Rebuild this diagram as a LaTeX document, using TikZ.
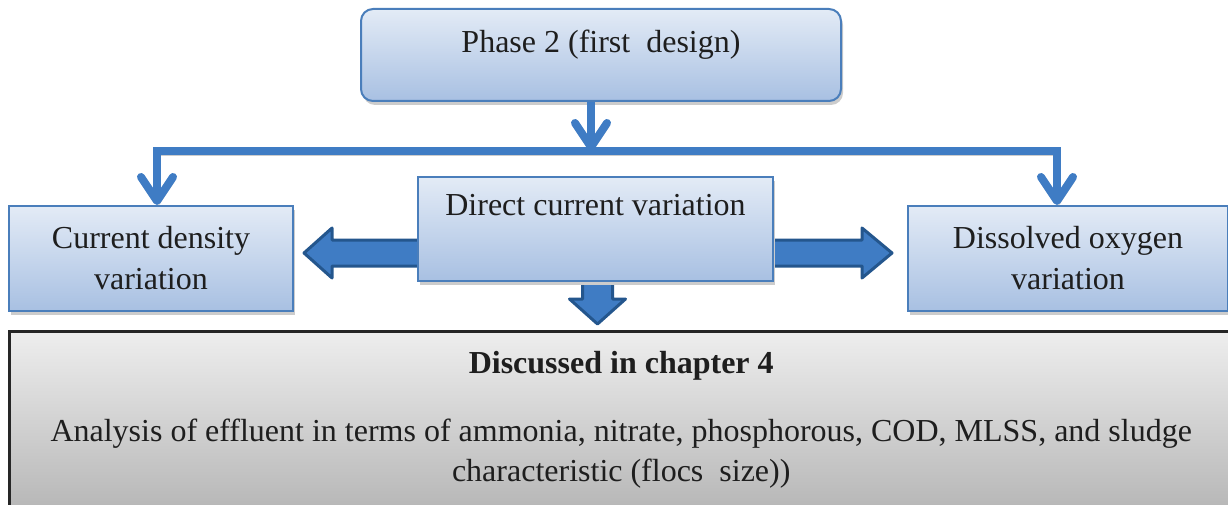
\documentclass[tikz,border=0pt]{standalone}
\usepackage{fontspec}
\setmainfont{Liberation Serif}
\usetikzlibrary{arrows.meta,calc,shadows,backgrounds,positioning}

\definecolor{boxline}{HTML}{4A7EBB}
\definecolor{boxtop}{HTML}{E3EBF6}
\definecolor{boxbot}{HTML}{A8C0E2}
\definecolor{arrblue}{HTML}{3F7CC4}
\definecolor{arredge}{HTML}{24568D}
\definecolor{graytop}{HTML}{EEEEEE}
\definecolor{graybot}{HTML}{B3B3B3}
\definecolor{txt}{HTML}{1E1E1E}

\tikzset{
  bluebox/.style={draw=boxline, line width=2pt, top color=boxtop, bottom color=boxbot,
    text=txt, inner sep=0pt, align=center, font=\fontsize{32}{41}\selectfont,
    drop shadow={shadow xshift=2pt, shadow yshift=-4pt, fill=black!20, opacity=1}},
  graybox/.style={draw=black!85, line width=2.5pt, top color=graytop, bottom color=graybot,
    text=txt, inner sep=0pt, align=center, font=\fontsize{32}{40}\selectfont},
  linkarrow/.style={draw=arrblue, line width=8pt, -{Straight Barb[length=24pt,width=32pt,round]},
    preaction={draw=black!20, transform canvas={shift={(2pt,-4pt)}}}},
  blockarrow/.style={fill=arrblue, draw=arredge, line width=3pt, line join=round}
}

\begin{document}
\begin{tikzpicture}[x=1pt,y=-1pt]
  \useasboundingbox (0,0) rectangle (1228,505);
  \clip (0,0) rectangle (1228,505);

  \node[bluebox, rounded corners=12pt, minimum width=480pt, text height=44pt, text depth=48pt,
    anchor=north west] (phase) at (360,8) {Phase 2 (first~~design)};
  \node[bluebox, minimum width=284pt, text height=83pt, text depth=22pt,
    anchor=north west] (cur) at (8,205) {Current density\\variation};
  \node[bluebox, minimum width=355pt, text height=38pt, text depth=66pt,
    anchor=north west] (dc) at (417,176) {Direct current variation};
  \node[bluebox, minimum width=320pt, text height=83pt, text depth=22pt,
    anchor=north west] (dis) at (907,205) {Dissolved oxygen\\variation};
  \node[graybox, minimum width=1224pt, text height=150pt, text depth=40pt,
    anchor=north west] (chap) at (8,330)
    {\textbf{Discussed in chapter 4}\\[28pt]
     Analysis of effluent in terms of ammonia, nitrate, phosphorous, COD, MLSS, and sludge\\
     characteristic (flocs~~size))};

  \coordinate (bar) at (591,151);
  \draw[linkarrow] (phase.south -| bar) -- (bar);
  \draw[linkarrow] (bar) -| ($(cur.north)+(6,0)$);
  \draw[linkarrow] (bar) -| ($(dis.north)+(-11,0)$);

  \begin{scope}[on background layer]
    \coordinate (ltip) at ($(cur.east)+(10,-5.5)$);
    \coordinate (rtip) at ($(dis.west)+(-15,-5.5)$);
    \coordinate (dtip) at ($(dc.south)+(2,42)$);
    \draw[blockarrow] (ltip) -- ++(28,-25) -- ++(0,12) -- ($(ltip -| dc.west)+(6,-13)$)
      -- ($(ltip -| dc.west)+(6,13)$) -- ($(ltip)+(28,13)$) -- ++(0,12) -- cycle;
    \draw[blockarrow] (rtip) -- ++(-30,-25) -- ++(0,12) -- ($(rtip -| dc.east)+(-6,-13)$)
      -- ($(rtip -| dc.east)+(-6,13)$) -- ($(rtip)+(-30,13)$) -- ++(0,12) -- cycle;
    \draw[blockarrow] (dtip) -- ++(-28,-25) -- ++(13,0) -- ($(dtip |- dc.south)+(-15,-6)$)
      -- ($(dtip |- dc.south)+(15,-6)$) -- ($(dtip)+(15,-25)$) -- ++(13,0) -- cycle;
  \end{scope}
\end{tikzpicture}
\end{document}
